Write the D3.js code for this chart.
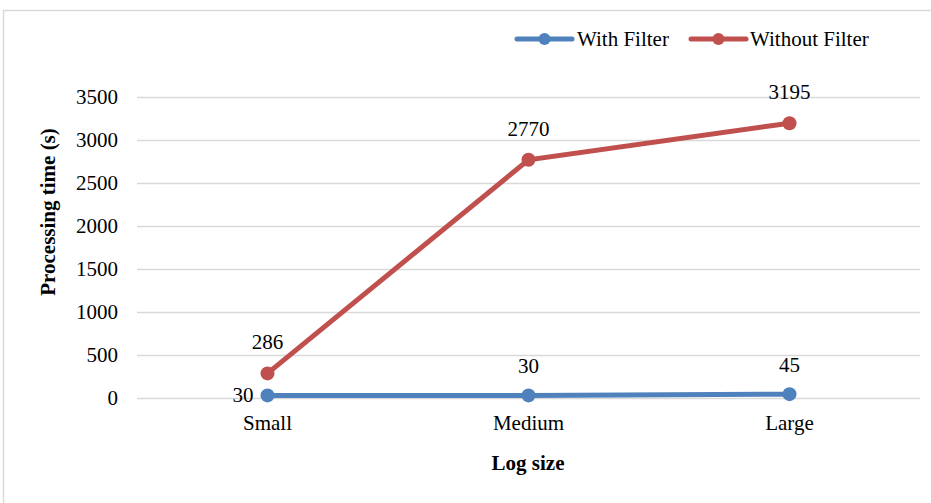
<!DOCTYPE html>
<html><head><meta charset="utf-8">
<script src="https://cdn.jsdelivr.net/npm/d3@7"></script>
<style>body{margin:0;background:#fff}svg{display:block}svg text{font-family:"Times New Roman","Liberation Serif","DejaVu Serif",Times,serif}</style>
</head><body><svg id="c" width="931" height="503"></svg>
<script>
const categories = ["Small","Medium","Large"];
const seriesNames = ["With Filter","Without Filter"];
const withFilter = [30,30,45];
const withoutFilter = [286,2770,3195];
const yTicks = [0,500,1000,1500,2000,2500,3000,3500];
const colors = ["#4F81BD","#C0504D"];
const FONT = '"Times New Roman","Liberation Serif","DejaVu Serif",serif';
const FS = 21;

const svg = d3.select("#c");
svg.append("path").attr("d","M3.5,503V10.5H931").attr("fill","none").attr("stroke","#d9d9d9").attr("stroke-width",1.5);

const m = {l:137, r:920, t:97, b:398};
const x = d3.scaleBand().domain(categories).range([m.l,m.r]);
const y = d3.scaleLinear().domain([0,3500]).range([m.b,m.t]);
const cx = c => x(c)+x.bandwidth()/2;

const g = svg.append("g").attr("transform",`translate(${m.l},0)`)
  .call(d3.axisLeft(y).tickValues(yTicks).tickSize(-(m.r-m.l)).tickPadding(19).tickFormat(d3.format("d")));
g.attr("font-family",FONT);
g.select(".domain").remove();
g.selectAll(".tick line").attr("stroke","#d9d9d9").attr("stroke-width",1.5);
g.selectAll(".tick text").attr("font-size",FS).attr("fill","#000");

const xa = svg.append("g").attr("transform",`translate(0,${m.b})`)
  .call(d3.axisBottom(x).tickSize(0).tickPadding(17));
xa.attr("font-family",FONT);
xa.select(".domain").remove();
xa.selectAll(".tick text").attr("font-size",FS).attr("fill","#000");

svg.append("text").attr("x",528).attr("y",470).attr("text-anchor","middle").attr("font-weight","bold").attr("font-size",FS).text("Log size");
svg.append("text").attr("transform","translate(55,212) rotate(-90)").attr("text-anchor","middle").attr("font-weight","bold").attr("font-size",FS).text("Processing time (s)");

const data = [withFilter, withoutFilter];
const line = d3.line().x((d,i)=>cx(categories[i])).y(d=>y(d));
[1,0].forEach(s=>{
  svg.append("path").datum(data[s]).attr("d",line).attr("fill","none").attr("stroke",colors[s]).attr("stroke-width",5).attr("stroke-linecap","round");
  svg.selectAll(null).data(data[s]).enter().append("circle").attr("cx",(d,i)=>cx(categories[i])).attr("cy",d=>y(d)).attr("r",7).attr("fill",colors[s]);
});

withoutFilter.forEach((v,i)=>{
  svg.append("text").attr("x",cx(categories[i])).attr("y",y(v)-24).attr("text-anchor","middle").attr("font-size",FS).text(v);
});
withFilter.forEach((v,i)=>{
  if(i===0){
    svg.append("text").attr("x",cx(categories[i])-14).attr("y",y(v)+7).attr("text-anchor","end").attr("font-size",FS).text(v);
  } else {
    svg.append("text").attr("x",cx(categories[i])).attr("y",y(v)-22).attr("text-anchor","middle").attr("font-size",FS).text(v);
  }
});

const lg = [{x:517,tx:577},{x:691,tx:750}];
seriesNames.forEach((n,i)=>{
  const L = lg[i];
  svg.append("line").attr("x1",L.x).attr("x2",L.x+55).attr("y1",39).attr("y2",39).attr("stroke",colors[i]).attr("stroke-width",5).attr("stroke-linecap","round");
  svg.append("circle").attr("cx",L.x+27.5).attr("cy",39).attr("r",6).attr("fill",colors[i]);
  svg.append("text").attr("x",L.tx).attr("y",46).attr("font-size",FS).text(n);
});
</script></body></html>
